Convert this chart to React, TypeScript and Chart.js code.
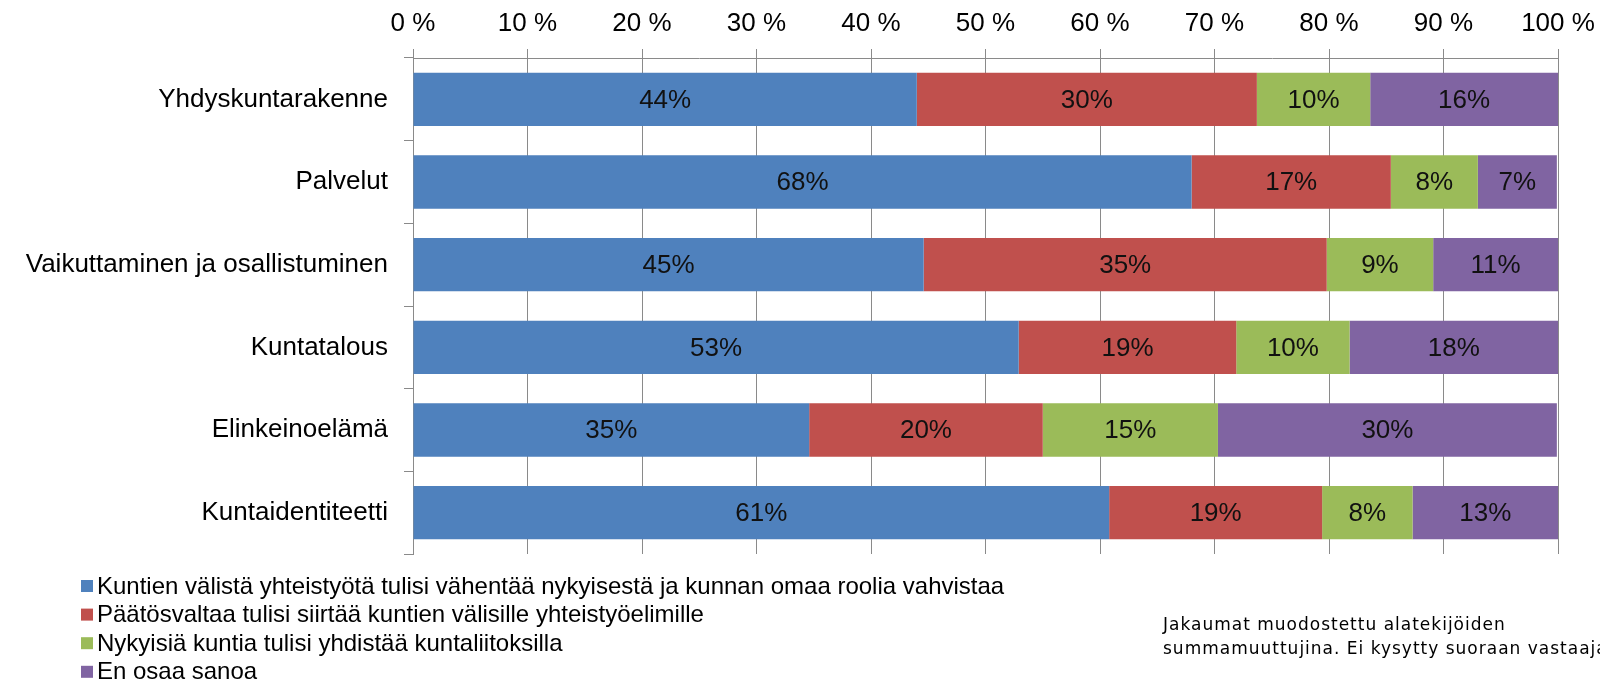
import React, { useEffect, useRef } from "react";
import { Chart, registerables } from "chart.js";

Chart.register(...registerables);

const categories = [
  "Yhdyskuntarakenne",
  "Palvelut",
  "Vaikuttaminen ja osallistuminen",
  "Kuntatalous",
  "Elinkeinoelämä",
  "Kuntaidentiteetti",
];

const seriesNames = [
  "Kuntien välistä yhteistyötä tulisi vähentää nykyisestä ja kunnan omaa roolia vahvistaa",
  "Päätösvaltaa tulisi siirtää kuntien välisille yhteistyöelimille",
  "Nykyisiä kuntia tulisi yhdistää kuntaliitoksilla",
  "En osaa sanoa",
];

const vahentaa = [44.0, 68.0, 44.6, 52.9, 34.6, 60.8];
const siirtaa = [29.7, 17.4, 35.2, 19.0, 20.4, 18.6];
const yhdistaa = [9.9, 7.6, 9.3, 9.9, 15.3, 7.9];
const eiOsaa = [16.4, 6.9, 10.9, 18.2, 29.6, 12.7];

const seriesColors = ["#4F81BD", "#C0504D", "#9BBB59", "#8064A2"];

const xTicks = [0, 10, 20, 30, 40, 50, 60, 70, 80, 90, 100];

const noteLines = [
  "Jakaumat muodostettu alatekijöiden",
  "summamuuttujina. Ei kysytty suoraan vastaajalta.",
];

const FONT = "'Liberation Sans', Arial, sans-serif";
const GRID = "#8a8a8a";

const dataLabelPlugin = {
  id: "dataLabels",
  afterDatasetsDraw(chart: any) {
    const ctx = chart.ctx;
    ctx.save();
    ctx.font = `26px ${FONT}`;
    ctx.fillStyle = "#111111";
    ctx.textAlign = "center";
    ctx.textBaseline = "middle";
    chart.data.datasets.forEach((ds: any, di: number) => {
      const meta = chart.getDatasetMeta(di);
      meta.data.forEach((el: any, i: number) => {
        const v = ds.data[i];
        const cx = (el.x + el.base) / 2;
        ctx.fillText(`${Math.round(v)}%`, cx, el.y + 1);
      });
    });
    ctx.restore();
  },
};

const legendPlugin = {
  id: "customLegend",
  afterDraw(chart: any) {
    const ctx = chart.ctx;
    ctx.save();
    ctx.font = `24px ${FONT}`;
    ctx.textBaseline = "middle";
    ctx.textAlign = "left";
    chart.data.datasets.forEach((ds: any, i: number) => {
      const y = 586 + i * 28.6;
      ctx.fillStyle = ds.backgroundColor;
      ctx.fillRect(81, y - 6, 12, 12);
      ctx.fillStyle = "#000000";
      ctx.fillText(ds.label, 97, y + 1);
    });
    ctx.restore();
  },
};

const notePlugin = {
  id: "note",
  afterDraw(chart: any) {
    const ctx = chart.ctx;
    ctx.save();
    ctx.font = `17px 'DejaVu Sans', Verdana, sans-serif`;
    ctx.fillStyle = "#000000";
    ctx.textAlign = "left";
    ctx.textBaseline = "alphabetic";
    try {
      (ctx as any).letterSpacing = "1px";
    } catch (e) {}
    noteLines.forEach((line, i) => {
      ctx.fillText(line, 1163, 630 + i * 24);
    });
    ctx.restore();
  },
};

export default function App() {
  const ref = useRef<HTMLCanvasElement>(null);

  useEffect(() => {
    if (!ref.current) return;
    const values = [vahentaa, siirtaa, yhdistaa, eiOsaa];
    const chart = new Chart(ref.current, {
      type: "bar",
      data: {
        labels: categories,
        datasets: seriesNames.map((name, i) => ({
          label: name,
          data: values[i],
          backgroundColor: seriesColors[i],
          borderWidth: 0,
          barPercentage: 0.646,
          categoryPercentage: 1,
        })),
      },
      options: {
        indexAxis: "y",
        responsive: false,
        animation: false,
        layout: { padding: { left: 0, right: 42, top: 0, bottom: 129 } },
        plugins: {
          legend: { display: false },
          tooltip: { enabled: false },
        },
        scales: {
          x: {
            type: "linear",
            position: "top",
            stacked: true,
            min: 0,
            max: 100,
            afterFit: (s: any) => {
              s.height = 58;
              s.paddingLeft = 0;
              s.paddingRight = 0;
            },
            afterBuildTicks: (s: any) => {
              s.ticks = xTicks.map((v) => ({ value: v }));
            },
            ticks: {
              padding: 10,
              color: "#000000",
              font: { family: FONT, size: 26 },
              callback: (v: any) => `${v} %`,
            },
            grid: {
              display: true,
              drawOnChartArea: true,
              drawTicks: true,
              tickLength: 9,
              color: GRID,
              lineWidth: 1,
            },
            border: { display: true, color: GRID, width: 1 },
          },
          y: {
            type: "category",
            stacked: true,
            afterFit: (s: any) => {
              s.width = 413;
              s.paddingTop = 0;
              s.paddingBottom = 0;
            },
            ticks: {
              padding: 16,
              color: "#000000",
              font: { family: FONT, size: 26 },
            },
            grid: {
              display: true,
              drawOnChartArea: false,
              drawTicks: true,
              tickLength: 9,
              offset: true,
              color: GRID,
              lineWidth: 1,
            },
            border: { display: true, color: GRID, width: 1 },
          },
        },
      },
      plugins: [dataLabelPlugin, legendPlugin, notePlugin],
    } as any);
    return () => chart.destroy();
  }, []);

  return (
    <div style={{ position: "fixed", left: 0, top: 0, width: 1600, height: 683, background: "#ffffff" }}>
      <canvas ref={ref} width={1600} height={683} style={{ display: "block", width: 1600, height: 683 }} />
    </div>
  );
}
